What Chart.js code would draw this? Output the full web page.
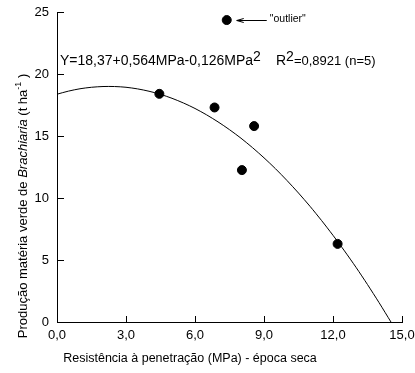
<!DOCTYPE html>
<html>
<head>
<meta charset="utf-8">
<script src="https://cdn.jsdelivr.net/npm/chart.js@4"></script>
<style>
html, body { margin: 0; padding: 0; background: #fff; }
#wrap { width: 415px; height: 373px; }
</style>
</head>
<body>
<div id="wrap"><canvas id="chart" width="415" height="373"></canvas></div>
<script>
// measured points (MPa, t/ha)
const pressure = [4.45, 6.85, 8.57, 8.04, 12.2];
const production = [18.4, 17.3, 15.8, 12.25, 6.3];
const outlierPressure = [7.38];
const outlierProduction = [24.35];

// fitted curve
const fitX = [0, 0.5, 1, 1.5, 2, 2.5, 3, 3.5, 4, 4.5, 5, 5.5, 6, 6.5, 7, 7.5, 8, 8.5, 9, 9.5, 10, 10.5, 11, 11.5, 12, 12.5, 13, 13.5, 14, 14.52];
const fitY = [18.37, 18.62, 18.81, 18.93, 18.99, 18.99, 18.93, 18.8, 18.61, 18.36, 18.04, 17.66, 17.22, 16.71, 16.14, 15.51, 14.82, 14.06, 13.24, 12.36, 11.41, 10.4, 9.33, 8.19, 6.99, 5.73, 4.41, 3.02, 1.57, 0];

const xTickLabels = ['0,0', '3,0', '6,0', '9,0', '12,0', '15,0'];
const yTickLabels = ['0', '5', '10', '15', '20', '25'];

const FONT = 'Arial, "Liberation Sans", sans-serif';

function drawRuns(ctx, runs, x, y) {
    let cx = x;
    runs.forEach(r => {
        ctx.font = r.font;
        ctx.fillText(r.text, cx, y - (r.rise || 0));
        cx += ctx.measureText(r.text).width;
    });
}

function runsWidth(ctx, runs) {
    let w = 0;
    runs.forEach(r => {
        ctx.font = r.font;
        w += ctx.measureText(r.text).width;
    });
    return w;
}

const extras = {
    id: 'extras',
    afterDraw(chart) {
        const ctx = chart.ctx;
        const xs = chart.scales.x;
        const ys = chart.scales.y;
        const area = chart.chartArea;
        ctx.save();
        ctx.strokeStyle = '#000';
        ctx.fillStyle = '#000';
        ctx.lineWidth = 1;

        // inward tick marks
        ctx.beginPath();
        xs.ticks.forEach(t => {
            const px = Math.round(xs.getPixelForValue(t.value)) + 0.5;
            ctx.moveTo(px, area.bottom);
            ctx.lineTo(px, area.bottom - 6);
        });
        ys.ticks.forEach(t => {
            const py = Math.round(ys.getPixelForValue(t.value)) + 0.5;
            ctx.moveTo(area.left, py);
            ctx.lineTo(area.left + 7, py);
        });
        ctx.stroke();

        // equation
        const n = '14px ' + FONT;
        ctx.textBaseline = 'alphabetic';
        drawRuns(ctx, [
            { text: 'Y=18,37+0,564MPa-0,126MPa', font: n },
            { text: '2', font: n, rise: 4 }
        ], 60, 65);
        drawRuns(ctx, [
            { text: 'R', font: n },
            { text: '2', font: n, rise: 4 },
            { text: '=0,8921 (n=5)', font: '13px ' + FONT }
        ], 276, 65);

        // outlier arrow
        const ox = xs.getPixelForValue(outlierPressure[0]);
        const oy = Math.round(ys.getPixelForValue(outlierProduction[0])) + 0.5;
        ctx.beginPath();
        ctx.moveTo(ox + 10, oy);
        ctx.lineTo(ox + 40, oy);
        ctx.moveTo(ox + 10, oy);
        ctx.lineTo(ox + 17, oy - 2);
        ctx.moveTo(ox + 10, oy);
        ctx.lineTo(ox + 17, oy + 2);
        ctx.stroke();
        ctx.font = '10.5px ' + FONT;
        ctx.textBaseline = 'middle';
        ctx.fillText('"outlier"', ox + 43, oy - 1);

        // x title
        ctx.textBaseline = 'middle';
        ctx.font = '12.5px ' + FONT;
        ctx.textAlign = 'center';
        ctx.fillText('Resistência à penetração (MPa) - época seca', 190, 359);

        // y title
        ctx.textAlign = 'left';
        ctx.textBaseline = 'alphabetic';
        const yRuns = [
            { text: 'Produção matéria verde de ', font: '13px ' + FONT },
            { text: 'Brachiaria', font: 'italic 13px ' + FONT },
            { text: ' (t ha', font: '13px ' + FONT },
            { text: '-1', font: '9px ' + FONT, rise: 6 },
            { text: ' )', font: '13px ' + FONT }
        ];
        const w = runsWidth(ctx, yRuns);
        ctx.translate(27, 206);
        ctx.rotate(-Math.PI / 2);
        drawRuns(ctx, yRuns, -w / 2, 0);
        ctx.restore();
    }
};

new Chart(document.getElementById('chart'), {
    type: 'scatter',
    data: {
        datasets: [
            {
                label: 'ajuste',
                type: 'line',
                data: fitX.map((x, i) => ({ x: x, y: fitY[i] })),
                borderColor: '#000',
                borderWidth: 1,
                pointRadius: 0,
                tension: 0.3,
                fill: false
            },
            {
                label: 'dados',
                data: pressure.map((x, i) => ({ x: x, y: production[i] })),
                backgroundColor: '#000',
                borderColor: '#000',
                pointRadius: 4.5
            },
            {
                label: 'outlier',
                data: outlierPressure.map((x, i) => ({ x: x, y: outlierProduction[i] })),
                backgroundColor: '#000',
                borderColor: '#000',
                pointRadius: 4.5
            }
        ]
    },
    options: {
        responsive: false,
        animation: false,
        devicePixelRatio: 1,
        layout: { padding: { left: 0, top: 12, right: 13, bottom: 0 } },
        plugins: {
            legend: { display: false },
            tooltip: { enabled: false }
        },
        scales: {
            x: {
                type: 'linear',
                min: 0,
                max: 15,
                ticks: {
                    stepSize: 3,
                    color: '#000',
                    font: { family: FONT, size: 13 },
                    padding: 6,
                    maxRotation: 0,
                    autoSkip: false,
                    callback: (v, i) => xTickLabels[i]
                },
                grid: { display: false, drawTicks: false },
                border: { display: true, color: '#000', width: 1 },
                afterFit: s => {
                    s.height = 51;
                    s.paddingLeft = s.paddingRight = s.paddingTop = s.paddingBottom = 0;
                }
            },
            y: {
                min: 0,
                max: 25,
                ticks: {
                    stepSize: 5,
                    color: '#000',
                    font: { family: FONT, size: 13 },
                    padding: 8,
                    autoSkip: false,
                    callback: (v, i) => yTickLabels[i]
                },
                grid: { display: false, drawTicks: false },
                border: { display: true, color: '#000', width: 1 },
                afterFit: s => {
                    s.width = 57;
                    s.paddingLeft = s.paddingRight = s.paddingTop = s.paddingBottom = 0;
                }
            }
        }
    },
    plugins: [extras]
});
</script>
</body>
</html>
